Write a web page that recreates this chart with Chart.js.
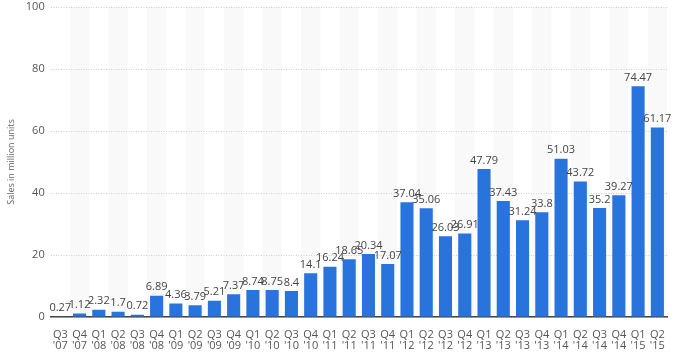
<!DOCTYPE html>
<html>
<head>
<meta charset="utf-8">
<script src="https://cdn.jsdelivr.net/npm/chart.js"></script>
<style>
  html, body { margin: 0; padding: 0; background: #fff; }
  #wrap { width: 675px; height: 361px; position: relative; }
</style>
</head>
<body>
<div id="wrap"><canvas id="salesChart"></canvas></div>
<script>
// quarters and iPhone sales (million units)
const quarters = ['Q3', 'Q4', 'Q1', 'Q2', 'Q3', 'Q4', 'Q1', 'Q2', 'Q3', 'Q4', 'Q1', 'Q2', 'Q3', 'Q4', 'Q1', 'Q2',
                  'Q3', 'Q4', 'Q1', 'Q2', 'Q3', 'Q4', 'Q1', 'Q2', 'Q3', 'Q4', 'Q1', 'Q2', 'Q3', 'Q4', 'Q1', 'Q2'];
const years = ["'07", "'07", "'08", "'08", "'08", "'08", "'09", "'09", "'09", "'09", "'10", "'10", "'10", "'10", "'11", "'11",
               "'11", "'11", "'12", "'12", "'12", "'12", "'13", "'13", "'13", "'13", "'14", "'14", "'14", "'14", "'15", "'15"];
const sales = [0.27, 1.12, 2.32, 1.7, 0.72, 6.89, 4.36, 3.79, 5.21, 7.37, 8.74, 8.75, 8.4, 14.1, 16.24, 18.65,
               20.34, 17.07, 37.04, 35.06, 26.03, 26.91, 47.79, 37.43, 31.24, 33.8, 51.03, 43.72, 35.2, 39.27, 74.47, 61.17];
const yTicks = [0, 20, 40, 60, 80, 100];

const labels = quarters.map((q, i) => [q, years[i]]);

// very light stripes behind every other category
const stripes = {
    id: 'stripes',
    beforeDraw(chart) {
        const { ctx, chartArea, scales } = chart;
        const x = scales.x;
        const w = x.width / labels.length;
        ctx.save();
        ctx.fillStyle = '#f9f9f9';
        labels.forEach((l, i) => {
            if (i % 2 === 1) {
                const cx = x.getPixelForValue(i);
                ctx.fillRect(cx - w / 2, chartArea.top, w, chartArea.bottom - chartArea.top);
            }
        });
        ctx.restore();
    }
};

// value labels on top of bars
const valueLabels = {
    id: 'valueLabels',
    afterDatasetsDraw(chart) {
        const { ctx } = chart;
        const meta = chart.getDatasetMeta(0);
        ctx.save();
        ctx.font = '11px "Open Sans", sans-serif';
        ctx.fillStyle = '#444';
        ctx.textAlign = 'center';
        ctx.textBaseline = 'bottom';
        meta.data.forEach((bar, i) => {
            ctx.fillText(String(sales[i]), bar.x, bar.y - 3);
        });
        ctx.restore();
    }
};

new Chart(document.getElementById('salesChart'), {
    type: 'bar',
    data: {
        labels: labels,
        datasets: [{
            data: sales,
            backgroundColor: '#2874dc',
            categoryPercentage: 1,
            barPercentage: 0.68
        }]
    },
    options: {
        responsive: true,
        maintainAspectRatio: false,
        animation: false,
        layout: { padding: { top: 7, right: 8, left: 0, bottom: 6 } },
        plugins: {
            legend: { display: false },
            tooltip: { enabled: false }
        },
        scales: {
            x: {
                grid: { display: false },
                border: { display: true, color: '#444', width: 1.5 },
                ticks: {
                    autoSkip: false,
                    maxRotation: 0,
                    color: '#555',
                    font: { family: '"Open Sans", sans-serif', size: 11, lineHeight: 1.0 },
                    padding: 4
                }
            },
            y: {
                min: 0,
                max: 100,
                afterBuildTicks(axis) {
                    axis.ticks = yTicks.map(v => ({ value: v }));
                },
                grid: { color: '#cfcfcf', drawTicks: false },
                border: { display: false, dash: [1, 1.5] },
                ticks: {
                    color: '#555',
                    font: { family: '"Open Sans", sans-serif', size: 11, lineHeight: 0.2 },
                    padding: 6
                },
                title: {
                    display: true,
                    text: 'Sales in million units',
                    color: '#666',
                    font: { family: '"Open Sans", sans-serif', size: 9 },
                    padding: { top: 6, bottom: 3 }
                }
            }
        }
    },
    plugins: [stripes, valueLabels]
});
</script>
</body>
</html>
